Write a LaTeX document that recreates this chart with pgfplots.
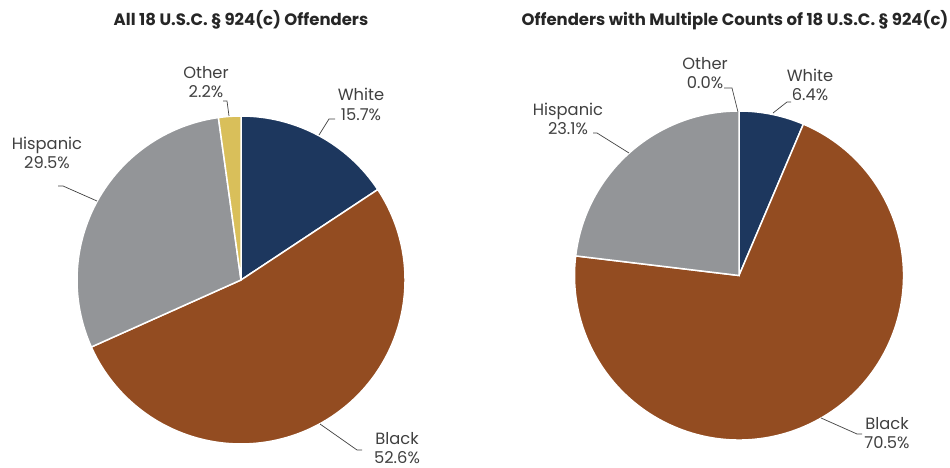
\documentclass[border=0pt]{standalone}
\usepackage{pgfplots}
\pgfplotsset{compat=1.18}
\usepackage{fontspec}
\setmainfont{Poppins}
\definecolor{cWhite}{HTML}{1D375E}
\definecolor{cBlack}{HTML}{934C21}
\definecolor{cHisp}{HTML}{939598}
\definecolor{cOther}{HTML}{D9BF5A}
\definecolor{txt}{HTML}{404040}
\definecolor{ttl}{HTML}{262626}
\begin{document}
\begin{tikzpicture}[x=1pt,y=1pt]
\useasboundingbox (0,0) rectangle (950,468);
% ---------- left pie: White 15.7, Black 52.6, Hispanic 29.5, Other 2.2
\begin{axis}[at={(241pt,188pt)}, anchor=center, x=164pt, y=164pt,
  xmin=-1, xmax=1, ymin=-1, ymax=1, hide axis, clip=false, data cs=polar]
\addplot[fill=cWhite, draw=white, line width=1.5pt] coordinates {(0,0) (90,1)}
  arc[start angle=90, end angle=33.48, radius=164pt] -- cycle;
\addplot[fill=cBlack, draw=white, line width=1.5pt] coordinates {(0,0) (33.48,1)}
  arc[start angle=33.48, end angle=-155.88, radius=164pt] -- cycle;
\addplot[fill=cHisp, draw=white, line width=1.5pt] coordinates {(0,0) (-155.88,1)}
  arc[start angle=-155.88, end angle=-262.08, radius=164pt] -- cycle;
\addplot[fill=cOther, draw=white, line width=1.5pt] coordinates {(0,0) (-262.08,1)}
  arc[start angle=-262.08, end angle=-270, radius=164pt] -- cycle;
\end{axis}
% ---------- right pie: White 6.4, Black 70.5, Hispanic 23.1, Other 0.0
\begin{axis}[at={(739pt,192.5pt)}, anchor=center, x=164.5pt, y=164.5pt,
  xmin=-1, xmax=1, ymin=-1, ymax=1, hide axis, clip=false, data cs=polar]
\addplot[fill=cWhite, draw=white, line width=1.5pt] coordinates {(0,0) (90,1)}
  arc[start angle=90, end angle=66.96, radius=164.5pt] -- cycle;
\addplot[fill=cBlack, draw=white, line width=1.5pt] coordinates {(0,0) (66.96,1)}
  arc[start angle=66.96, end angle=-186.84, radius=164.5pt] -- cycle;
\addplot[fill=cHisp, draw=white, line width=1.5pt] coordinates {(0,0) (-186.84,1)}
  arc[start angle=-186.84, end angle=-270, radius=164.5pt] -- cycle;
\end{axis}
% ---------- titles
\node[font=\bfseries\fontsize{16.5}{18}\selectfont, text=ttl] at (241,448) {All 18 U.S.C. § 924(c) Offenders};
\node[font=\bfseries\fontsize{16.5}{18}\selectfont, text=ttl] at (735,448) {Offenders with Multiple Counts of 18 U.S.C. § 924(c)};
% ---------- labels
\tikzset{lab/.style={font=\fontsize{16.3}{19.5}\selectfont, text=txt, align=center, inner sep=0pt}}
\node[lab] at (361,363.5) {White\\15.7\%};
\node[lab] at (206,386) {Other\\2.2\%};
\node[lab] at (47,315) {Hispanic\\29.5\%};
\node[lab] at (397,20) {Black\\52.6\%};
\node[lab] at (705,395) {Other\\0.0\%};
\node[lab] at (810,383) {White\\6.4\%};
\node[lab] at (568,349) {Hispanic\\23.1\%};
\node[lab] at (887,35) {Black\\70.5\%};
% ---------- leader lines
\tikzset{lead/.style={draw=txt, line width=0.7pt}}
\draw[lead] (319,333) -- (329,349) -- (335,349);
\draw[lead] (229,352) -- (227,367) -- (223,367);
\draw[lead] (58,282) -- (63,282) -- (97,267);
\draw[lead] (320,44) -- (357,18) -- (362,18);
\draw[lead] (724,380) -- (732,380) -- (738,356);
\draw[lead] (773,355) -- (787,366) -- (791,366);
\draw[lead] (593,335) -- (597,335) -- (629,315);
\draw[lead] (821,50) -- (857,34) -- (862,34);
\end{tikzpicture}
\end{document}
